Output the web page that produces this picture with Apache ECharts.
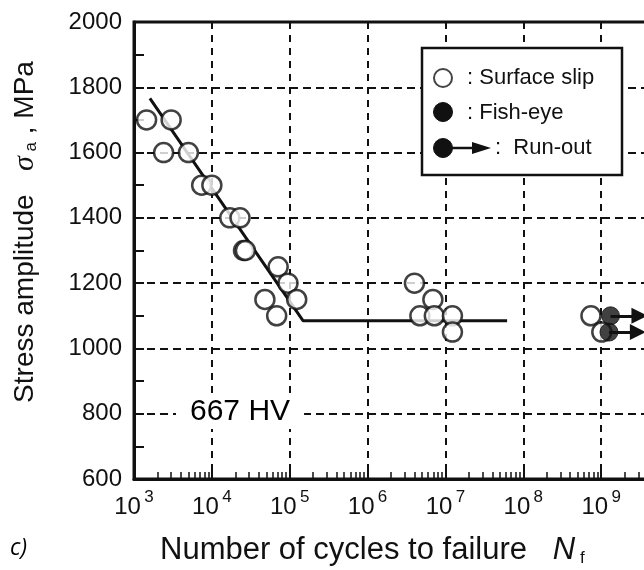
<!DOCTYPE html>
<html>
<head>
<meta charset="utf-8">
<script src="https://cdn.jsdelivr.net/npm/echarts@6/dist/echarts.min.js"></script>
<style>
  html, body { margin: 0; padding: 0; background: #fff; }
  #chart { width: 644px; height: 570px; }
</style>
</head>
<body>
<div id="chart"></div>
<script>
// S-N data for the 667 HV steel
const slipCycles = [1.45e3, 3.0e3, 2.4e3, 5.0e3, 7.4e3, 1.0e4, 1.7e4, 2.3e4, 2.55e4, 2.7e4,
                    7.1e4, 9.5e4, 4.8e4, 1.23e5, 6.8e4,
                    4.0e6, 6.9e6, 4.7e6, 7.2e6, 1.23e7, 1.23e7,
                    7.4e8, 1.02e9];
const slipStress = [1700, 1700, 1600, 1600, 1500, 1500, 1400, 1400, 1300, 1300,
                    1250, 1200, 1150, 1150, 1100,
                    1200, 1150, 1100, 1100, 1100, 1050,
                    1100, 1050];
const runOutCycles = [1.32e9, 1.26e9];
const runOutStress = [1100, 1050];
const fitCycles = [1.6e3, 1.48e5, 6.2e7];
const fitStress = [1766, 1085, 1085];
const xExponents = [3, 4, 5, 6, 7, 8, 9, 10];
const yTicks = [600, 800, 1000, 1200, 1400, 1600, 1800, 2000];
const hardnessLabel = '667 HV';

const INK = '#111';
const FONT = '"Liberation Sans", Arial, sans-serif';
const ARROW_SPAN = 2.35;

const zip = (a, b) => a.map((v, i) => [v, b[i]]);

// minor ticks at 2..9 of every decade
const minorTicks = [];
for (let e = 3; e < 10; e++) {
  for (let m = 2; m <= 9; m++) minorTicks.push(m * Math.pow(10, e));
}

const chart = echarts.init(document.getElementById('chart'), null, { renderer: 'canvas' });

const xRange = {
  min: Math.pow(10, xExponents[0]),
  max: Math.pow(10, xExponents[xExponents.length - 1])
};

const option = {
  animation: false,
  backgroundColor: '#fff',
  grid: {
    left: 134, right: -35, top: 22, bottom: 91,
    outerBoundsMode: 'none',
    containLabel: false,
    show: true, borderColor: INK, borderWidth: 3, backgroundColor: 'transparent'
  },
  xAxis: [{
    type: 'log',
    logBase: 10,
    min: xRange.min,
    max: xRange.max,
    axisLine: { show: true, lineStyle: { color: INK, width: 3 } },
    axisTick: { show: true, inside: true, length: 8, lineStyle: { color: INK, width: 2 } },
    splitLine: { show: true, lineStyle: { color: INK, width: 2, type: [7, 6] } },
    axisLabel: {
      margin: 10,
      hideOverlap: false,
      formatter: v => '{b|10} {e|' + Math.round(Math.log10(v)) + '}',
      rich: {
        b: { fontFamily: FONT, fontSize: 24, color: INK, lineHeight: 30, verticalAlign: 'bottom' },
        e: { fontFamily: FONT, fontSize: 17, color: INK, lineHeight: 30, verticalAlign: 'top' }
      }
    }
  }, {
    type: 'log',
    logBase: 10,
    gridIndex: 0,
    position: 'bottom',
    min: xRange.min,
    max: xRange.max,
    axisLine: { show: false },
    axisLabel: { show: false },
    splitLine: { show: false },
    axisTick: { show: true, inside: true, length: 7, customValues: minorTicks,
                lineStyle: { color: INK, width: 1.5 } }
  }],
  yAxis: {
    type: 'value',
    min: yTicks[0],
    max: yTicks[yTicks.length - 1],
    interval: 200,
    axisLine: { show: true, lineStyle: { color: INK, width: 3 } },
    axisTick: { show: true, inside: true, length: 10, lineStyle: { color: INK, width: 2 } },
    minorTick: { show: true, splitNumber: 2, length: 10, lineStyle: { color: INK, width: 2 } },
    splitLine: { show: true, lineStyle: { color: INK, width: 2, type: [8, 5] } },
    axisLabel: { margin: 12, fontFamily: FONT, fontSize: 24, color: INK, formatter: v => String(v) }
  },
  series: [{
    name: 'fit',
    type: 'line',
    data: zip(fitCycles, fitStress),
    symbol: 'none',
    lineStyle: { color: INK, width: 3 },
    z: 2,
    silent: true
  }, {
    name: 'Surface slip',
    type: 'scatter',
    data: zip(slipCycles, slipStress),
    symbol: 'circle',
    symbolSize: 19,
    itemStyle: { color: '#fff', borderColor: INK, borderWidth: 2.5 },
    z: 3
  }, {
    name: 'Run-out arrows',
    type: 'lines',
    coordinateSystem: 'cartesian2d',
    data: runOutCycles.map((n, i) => ({ coords: [[n, runOutStress[i]], [n * ARROW_SPAN, runOutStress[i]]] })),
    symbol: ['none', 'triangle'],
    symbolSize: 16,
    lineStyle: { color: INK, width: 3, opacity: 1 },
    z: 4
  }, {
    name: 'Fish-eye',
    type: 'scatter',
    data: zip(runOutCycles, runOutStress),
    symbol: 'circle',
    symbolSize: 18,
    itemStyle: { color: INK, borderColor: INK, borderWidth: 1 },
    z: 5
  }],
  graphic: [
    // y axis title, read bottom to top
    {
      type: 'text', x: 25, y: 232, rotation: Math.PI / 2, z: 20,
      style: {
        text: '{t|Stress amplitude   }{s|σ}{sub| a}{t| , MPa}',
        align: 'center', verticalAlign: 'middle',
        rich: {
          t: { fontFamily: FONT, fontSize: 28, fill: INK },
          s: { fontFamily: '"Liberation Serif", serif', fontStyle: 'italic', fontSize: 30, fill: INK },
          sub: { fontFamily: FONT, fontSize: 17, fill: INK, padding: [12, 0, 0, 0] }
        }
      }
    },
    // hardness tag sitting over the 800 MPa grid line
    {
      type: 'text', left: 176, top: 395, z: 20,
      style: {
        text: hardnessLabel, font: '30px ' + FONT, fill: '#000',
        backgroundColor: '#fff', padding: [2, 14, 2, 14]
      }
    },
    // legend box
    {
      type: 'rect', z: 20,
      shape: { x: 422, y: 48, width: 200, height: 127 },
      style: { fill: '#fff', stroke: INK, lineWidth: 2.5 }
    },
    { type: 'circle', z: 21, shape: { cx: 443, cy: 78, r: 9 }, style: { fill: '#fff', stroke: '#444', lineWidth: 2 } },
    { type: 'text', z: 21, x: 467, y: 78, style: { text: ': Surface slip', font: '22px ' + FONT, fill: INK, verticalAlign: 'middle' } },
    { type: 'circle', z: 21, shape: { cx: 443, cy: 112, r: 9.5 }, style: { fill: INK, stroke: INK, lineWidth: 1 } },
    { type: 'text', z: 21, x: 467, y: 113, style: { text: ': Fish-eye', font: '22px ' + FONT, fill: INK, verticalAlign: 'middle' } },
    { type: 'circle', z: 21, shape: { cx: 443, cy: 148, r: 9.5 }, style: { fill: INK, stroke: INK, lineWidth: 1 } },
    { type: 'line', z: 21, shape: { x1: 450, y1: 148, x2: 475, y2: 148 }, style: { stroke: INK, lineWidth: 2.5 } },
    { type: 'polygon', z: 21, shape: { points: [[472, 142], [491, 148], [472, 154]] }, style: { fill: INK } },
    { type: 'text', z: 21, x: 495, y: 148, style: { text: ':  Run-out', font: '22px ' + FONT, fill: INK, verticalAlign: 'middle' } },
    // x axis title
    {
      type: 'text', left: 160, top: 535, z: 20,
      style: {
        text: '{t|Number of cycles to failure   }{n|N}{sub| f}',
        rich: {
          t: { fontFamily: FONT, fontSize: 31, fill: INK },
          n: { fontFamily: FONT, fontStyle: 'italic', fontSize: 31, fill: INK },
          sub: { fontFamily: FONT, fontSize: 17, fill: INK, padding: [16, 0, 0, 0] }
        }
      }
    },
    // panel letter
    {
      type: 'text', left: 10, top: 537, z: 20,
      style: { text: 'c)', font: 'italic 23px "Open Sans", sans-serif', fill: '#000' }
    }
  ]
};

chart.setOption(option);
</script>
</body>
</html>
